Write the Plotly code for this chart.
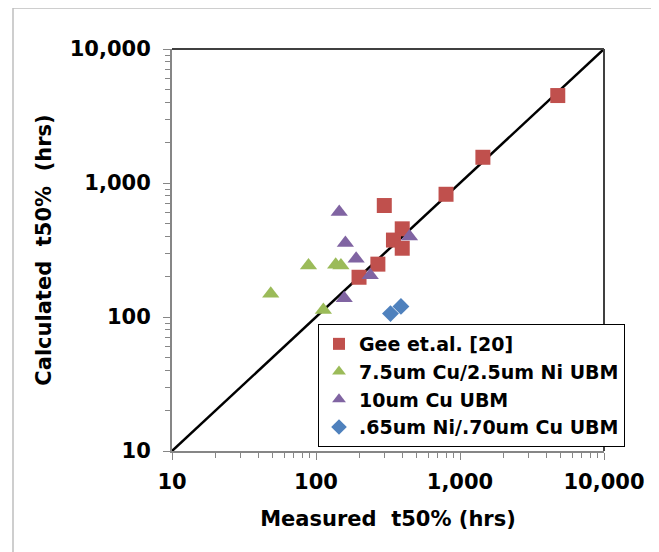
import plotly.graph_objects as go

# ---- data ----
gee_measured = [4775, 1442, 800, 298, 397, 345, 397, 269, 199]
gee_calculated = [4494, 1556, 824, 679, 455, 375, 326, 248, 198]

cu75_measured = [48.5, 88.7, 137, 149, 112.5]
cu75_calculated = [149, 242, 245, 242, 113]

cu10_measured = [145, 160, 190, 238, 157, 446]
cu10_calculated = [608, 357, 272, 205, 138, 398]

ni065_measured = [329, 389]
ni065_calculated = [106, 120]

line_x = [10, 10000]
line_y = [10, 10000]

tick_vals = [10, 100, 1000, 10000]
tick_text = ["10", "100", "1,000", "10,000"]

series_names = ["Gee et.al. [20]", "7.5um Cu/2.5um Ni UBM", "10um Cu UBM", ".65um Ni/.70um Cu UBM"]

# the page body has an 8px default margin, so the figure is made 8px smaller
OFF = 8
W, H = 659 - OFF, 552 - OFF
L, R, T, B = 172 - OFF, 604 - OFF, 49 - OFF, 451 - OFF  # plot area in figure pixels


def px(x):  # page pixel -> paper x
    return (x - OFF - L) / (R - L)


def py(y):  # page pixel -> paper y
    return (B - (y - OFF)) / (B - T)


FONT = "DejaVu Sans"

fig = go.Figure()

fig.add_trace(go.Scatter(x=line_x, y=line_y, mode="lines",
                         line=dict(color="black", width=2.5),
                         showlegend=False, hoverinfo="skip"))

fig.add_trace(go.Scatter(x=gee_measured, y=gee_calculated, mode="markers",
                         name=series_names[0], legendgroup="a",
                         marker=dict(symbol="square", size=15, color="#C0504D")))
fig.add_trace(go.Scatter(x=cu75_measured, y=cu75_calculated, mode="markers",
                         name=series_names[1], legendgroup="b",
                         marker=dict(symbol="triangle-up", size=15, color="#9BBB59")))
fig.add_trace(go.Scatter(x=cu10_measured, y=cu10_calculated, mode="markers",
                         name=series_names[2], legendgroup="c",
                         marker=dict(symbol="triangle-up", size=15, color="#8064A2")))
fig.add_trace(go.Scatter(x=ni065_measured, y=ni065_calculated, mode="markers",
                         name=series_names[3], legendgroup="d",
                         marker=dict(symbol="diamond", size=13, color="#4F81BD")))

axis_common = dict(
    type="log", range=[1, 4],
    tickvals=tick_vals, ticktext=tick_text,
    showgrid=False, zeroline=False,
    showline=True, linecolor="#868686", linewidth=2,
    ticks="outside", ticklen=7, tickcolor="#868686", tickwidth=1,
    tickfont=dict(family=FONT, size=21, color="black", weight="bold"),
    minor=dict(dtick="D1", ticks="outside", ticklen=5, tickcolor="#868686", showgrid=False),
)

fig.update_layout(
    width=W, height=H,
    margin=dict(l=L, r=W - R, t=T, b=H - B),
    paper_bgcolor="white", plot_bgcolor="white",
    xaxis=dict(**axis_common, ticklabelstandoff=4,
               title=dict(text="Measured\u00a0\u00a0t50% (hrs)", standoff=18,
                          font=dict(family=FONT, size=21, color="black", weight="bold"))),
    yaxis=dict(**axis_common, ticklabelstandoff=8,
               title=dict(text="Calculated\u00a0\u00a0t50%\u00a0\u00a0(hrs)", standoff=12,
                          font=dict(family=FONT, size=21, color="black", weight="bold"))),
    legend=dict(x=px(318), y=py(324), xanchor="left", yanchor="top",
                bgcolor="white", bordercolor="black", borderwidth=1,
                font=dict(family=FONT, size=19, color="black", weight="bold"),
                itemsizing="constant", tracegroupgap=0, itemwidth=30),
    showlegend=True,
    shapes=[
        # outer frame
        dict(type="rect", xref="paper", yref="paper",
             x0=px(13), x1=px(W + 30), y0=py(8), y1=py(H + 30),
             line=dict(color="#BFBFBF", width=1.5), layer="below"),
        # top and right plot border
        dict(type="line", xref="paper", yref="paper", x0=0, x1=1, y0=1, y1=1,
             line=dict(color="#404040", width=2)),
        dict(type="line", xref="paper", yref="paper", x0=1, x1=1, y0=0, y1=1,
             line=dict(color="#404040", width=2)),
    ],
)

fig.write_html("out.html")
